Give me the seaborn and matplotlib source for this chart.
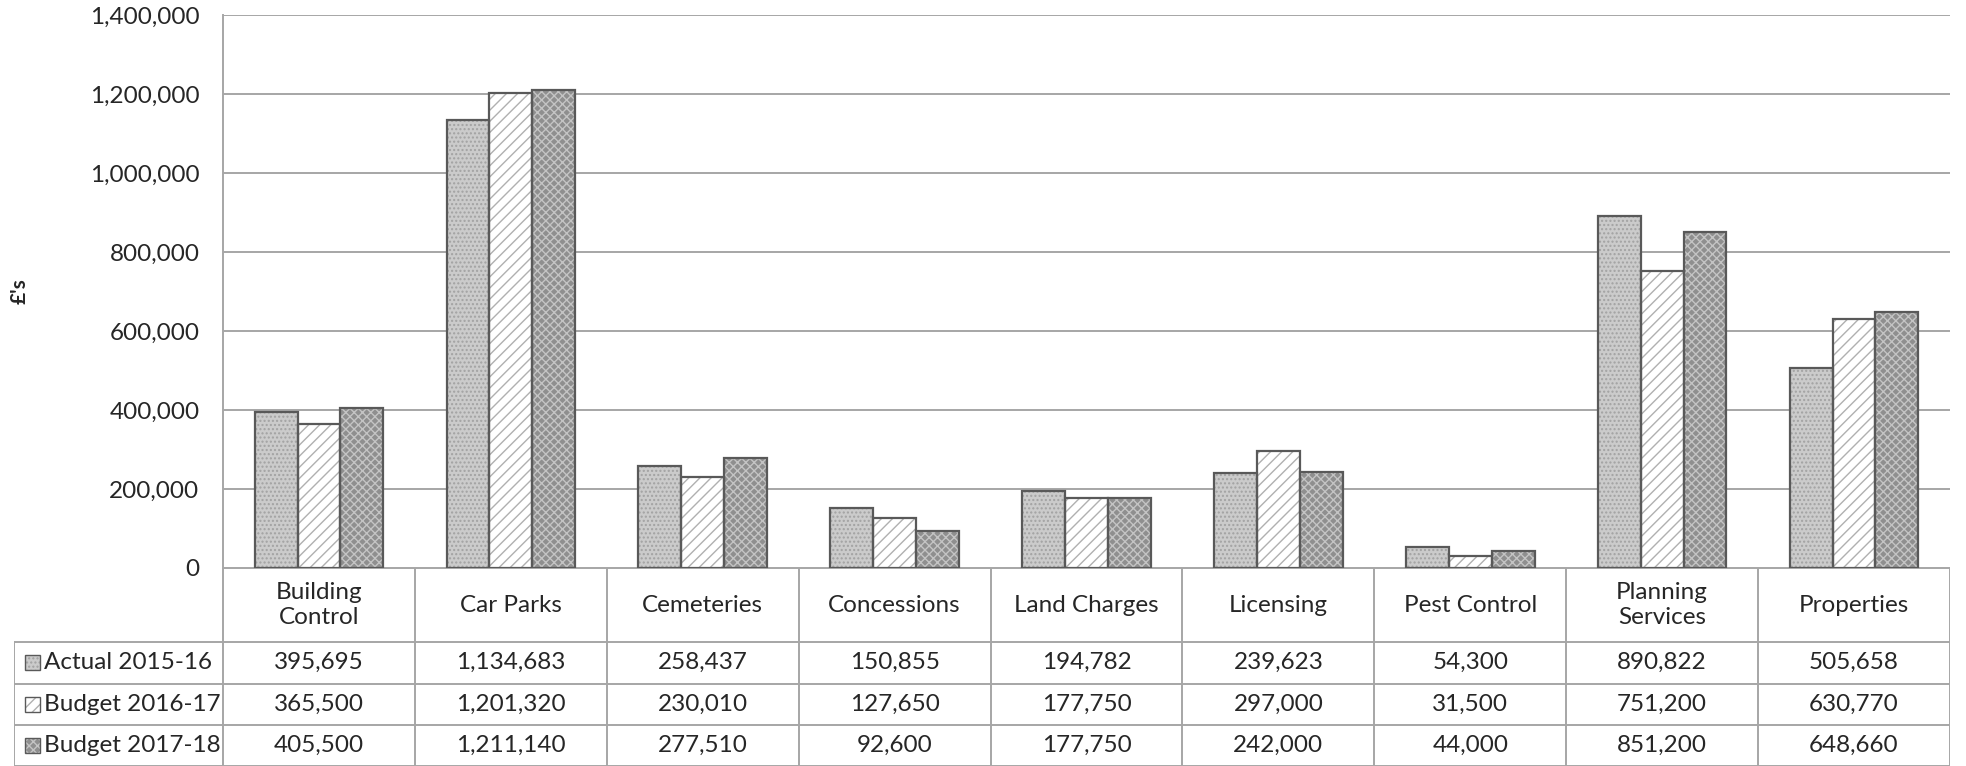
import pandas as pd
import matplotlib
matplotlib.use("Agg")
import matplotlib.pyplot as plt
from matplotlib.patches import Rectangle
from matplotlib.ticker import FuncFormatter
import seaborn as sns

services = ["Building Control", "Car Parks", "Cemeteries", "Concessions", "Land Charges",
            "Licensing", "Pest Control", "Planning Services", "Properties"]
header_labels = ["Building\nControl", "Car Parks", "Cemeteries", "Concessions", "Land Charges",
                 "Licensing", "Pest Control", "Planning\nServices", "Properties"]
series = ["Actual 2015-16", "Budget 2016-17", "Budget 2017-18"]
actual_2015_16 = [395695, 1134683, 258437, 150855, 194782, 239623, 54300, 890822, 505658]
budget_2016_17 = [365500, 1201320, 230010, 127650, 177750, 297000, 31500, 751200, 630770]
budget_2017_18 = [405500, 1211140, 277510, 92600, 177750, 242000, 44000, 851200, 648660]
y_ticks = [0, 200000, 400000, 600000, 800000, 1000000, 1200000, 1400000]

# face colour, hatch, hatch colour per series
styles = {
    "Actual 2015-16": ("#cbcbcb", "....", "#a2a2a2"),
    "Budget 2016-17": ("#ffffff", "///", "#b0b0b0"),
    "Budget 2017-18": ("#8f8f8f", "xxxx", "#c4c4c4"),
}
edge = "#595959"
grid = "#a6a6a6"
fs = 17.5

sns.set_theme(style="white")
plt.rcParams['font.family'] = ['Lato', 'DejaVu Sans']
plt.rcParams['hatch.linewidth'] = 1.0

W, H = 1966, 766
fig = plt.figure(figsize=(W / 100, H / 100), dpi=100)
ax = fig.add_axes([223 / W, (H - 568) / H, (1950 - 223) / W, (568 - 15) / H])

df = pd.DataFrame({"service": services,
                   series[0]: actual_2015_16,
                   series[1]: budget_2016_17,
                   series[2]: budget_2017_18})
long_df = df.melt(id_vars="service", var_name="series", value_name="value")

sns.barplot(data=long_df, x="service", y="value", hue="series", order=services,
            hue_order=series, width=0.67, saturation=1, legend=False, ax=ax, zorder=3)

for name, container in zip(series, ax.containers):
    face, hatch, hcol = styles[name]
    for p in container:
        p.set_facecolor(face)
        p.set_hatch(hatch)
        p.set_edgecolor(hcol)
        p.set_linewidth(0)
        ax.add_patch(Rectangle((p.get_x(), p.get_y()), p.get_width(), p.get_height(),
                               fill=False, edgecolor=edge, linewidth=1.6, zorder=4))

ax.set_ylim(0, 1400000)
ax.set_yticks(y_ticks)
ax.yaxis.set_major_formatter(FuncFormatter(lambda v, _: f"{v:,.0f}"))
ax.tick_params(axis="y", length=0, pad=17, labelsize=fs, labelcolor="#262626")
ax.set_xticks([])
ax.set_xlabel("")
ax.set_ylabel("£'s", fontsize=15, fontweight="bold", color="#262626")
ax.yaxis.set_label_coords((30 - 223) / (1950 - 223), 0.5)
ax.grid(axis="y", color=grid, linewidth=1.4, zorder=0)
ax.set_axisbelow(True)
for s in ["top", "right", "bottom"]:
    ax.spines[s].set_visible(False)
ax.spines["left"].set_color(grid)
ax.spines["left"].set_linewidth(1.4)

# data table under the chart
col_px = (1950 - 223) / len(services)
left = -0.5 - (223 - 14) / col_px
tax = fig.add_axes([14 / W, 0, (1950 - 14) / W, 198 / H])
tax.set_xlim(left, len(services) - 0.5)
tax.set_ylim(198, 0)
tax.axis("off")

row_edges = [0, 74, 115.5, 157, 198]
tcol = "#262626"
lw = 1.4
tax.plot([-0.5, len(services) - 0.5], [0, 0], color=grid, lw=lw)
for y in row_edges[1:]:
    tax.plot([left, len(services) - 0.5], [y, y], color=grid, lw=lw)
for k in range(len(services) + 1):
    tax.plot([k - 0.5, k - 0.5], [0, 198], color=grid, lw=lw)
tax.plot([left, left], [74, 198], color=grid, lw=lw)

for i, lab in enumerate(header_labels):
    tax.text(i, 37, lab, ha="center", va="center", fontsize=fs, color=tcol, linespacing=1.25)

values = [actual_2015_16, budget_2016_17, budget_2017_18]
key_w = 15 / col_px
for r, name in enumerate(series):
    yc = (row_edges[r + 1] + row_edges[r + 2]) / 2
    face, hatch, hcol = styles[name]
    kx = left + 11 / col_px
    tax.add_patch(Rectangle((kx, yc - 7.5), key_w, 15, facecolor=face, hatch=hatch,
                            edgecolor=hcol, linewidth=0))
    tax.add_patch(Rectangle((kx, yc - 7.5), key_w, 15, fill=False, edgecolor=edge, linewidth=1.0))
    tax.text(kx + key_w + 4 / col_px, yc, name, ha="left", va="center", fontsize=fs, color=tcol)
    for i, v in enumerate(values[r]):
        tax.text(i, yc, f"{v:,}", ha="center", va="center", fontsize=fs, color=tcol)

fig.savefig("out.png", dpi=100)
